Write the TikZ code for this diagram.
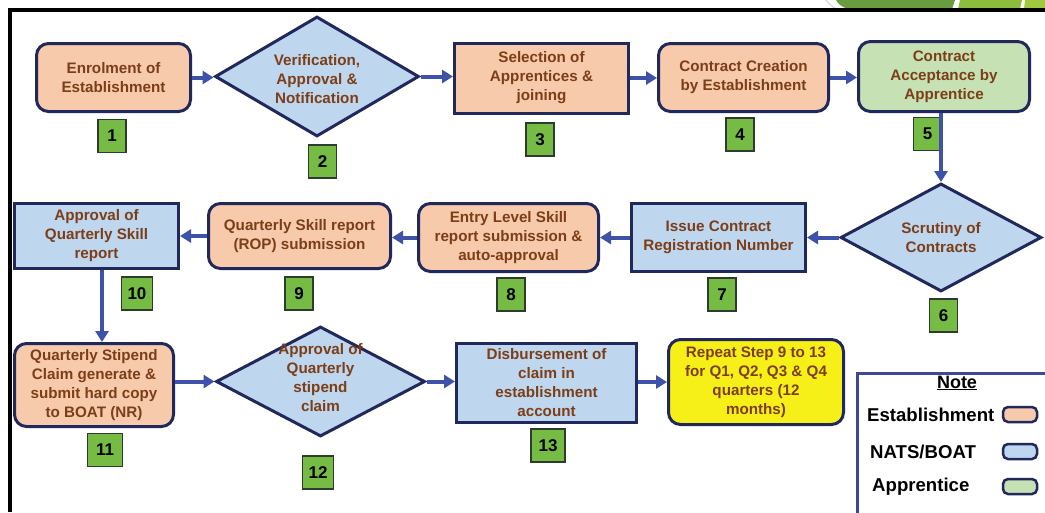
\documentclass[tikz,border=0pt]{standalone}
\usepackage{fontspec}
\setmainfont{Liberation Sans}
\usetikzlibrary{shapes.geometric,arrows.meta}
\definecolor{navy}{RGB}{32,40,92}
\definecolor{peach}{RGB}{247,202,172}
\definecolor{lblue}{RGB}{190,214,238}
\definecolor{lgreen}{RGB}{198,226,180}
\definecolor{yel}{RGB}{246,240,24}
\definecolor{txtbrown}{RGB}{124,62,24}
\definecolor{arrblue}{RGB}{62,82,170}
\definecolor{numgreen}{RGB}{118,188,68}
\definecolor{numedge}{RGB}{45,60,45}
\definecolor{notecol}{RGB}{62,72,150}
\definecolor{decdark}{RGB}{107,155,63}
\definecolor{declight}{RGB}{141,187,62}
\definecolor{declighter}{RGB}{160,200,64}
\begin{document}
\begin{tikzpicture}[x=1pt,y=-1pt,
  box/.style={draw=navy, line width=3pt, align=center, text=txtbrown,
    font=\fontsize{15.2}{19}\selectfont\bfseries, inner sep=0pt},
  rbox/.style={box, rounded corners=12pt},
  dia/.style={diamond, draw=navy, line width=3pt, fill=lblue, inner sep=0pt},
  dtext/.style={align=center, text=txtbrown, inner sep=0pt,
    font=\fontsize{15.2}{19}\selectfont\bfseries},
  num/.style={draw=numedge, line width=1.6pt, fill=numgreen, inner sep=0pt,
    font=\fontsize{17}{17}\selectfont\bfseries, minimum height=33pt, minimum width=28pt},
  arr/.style={draw=arrblue, line width=4pt, -{Triangle[length=11pt,width=13pt]}},
  legtext/.style={anchor=west, inner sep=0pt, font=\fontsize{18.6}{20}\selectfont\bfseries},
  swatch/.style={draw=navy, line width=2.5pt, rounded corners=5pt, minimum width=34pt, minimum height=15pt, inner sep=0pt},
]
\useasboundingbox (0,0) rectangle (1045,512);
\clip (0,0) rectangle (1045,512);
\fill[white] (0,0) rectangle (1045,512);

% decoration at top right
\fill[decdark] (836,0) .. controls (838,4) and (842,7) .. (848,9) -- (952,9) -- (955,0) -- cycle;
\fill[declight] (960,0) -- (958,9) -- (1020,9) -- (1022,0) -- cycle;
\fill[declighter] (1025,0) -- (1024,9) -- (1045,9) -- (1045,0) -- cycle;
\draw[gray!50, line width=0.6pt] (826,0) .. controls (829,4) .. (836,9);

% frame
\draw[black, line width=4pt] (7.5,9.5) -- (1045,9.5);
\draw[black, line width=4pt] (9.5,7.5) -- (9.5,512);

% row 1
\node[rbox, fill=peach, minimum width=154pt, minimum height=68pt] (n1) at (113.5,77.5) {Enrolment of\\Establishment};
\node[dia, minimum width=204pt, minimum height=120pt] (d2) at (317,76.5) {};
\node[dtext] (t2) at (317,79) {Verification,\\Approval \&\\Notification};
\node[box, fill=peach, minimum width=174pt, minimum height=70pt] (n3) at (541.5,78) {Selection of\\Apprentices \&\\joining};
\node[rbox, fill=peach, minimum width=170pt, minimum height=68pt] (n4) at (743.5,77.5) {Contract Creation\\by Establishment};
\node[rbox, fill=lgreen, minimum width=171pt, minimum height=70pt] (n5) at (944,76.5) {Contract\\Acceptance by\\Apprentice};

% row 2
\node[dia, minimum width=201pt, minimum height=108pt] (d6) at (941,237.5) {};
\node[dtext] (t6) at (941,237.5) {Scrutiny of\\Contracts};
\node[box, fill=lblue, minimum width=174pt, minimum height=68pt] (n7) at (718.5,237.5) {Issue Contract\\Registration Number};
\node[rbox, fill=peach, minimum width=180pt, minimum height=68pt] (n8) at (508.5,237.5) {Entry Level Skill\\report submission \&\\auto-approval};
\node[rbox, fill=peach, minimum width=182pt, minimum height=65pt] (n9) at (299.5,236) {Quarterly Skill report\\(ROP) submission};
\node[box, fill=lblue, minimum width=164pt, minimum height=65pt] (n10) at (96.5,236) {Approval of\\Quarterly Skill\\report};

% row 3
\node[rbox, fill=peach, minimum width=159pt, minimum height=83pt] (n11) at (94,385) {Quarterly Stipend\\Claim generate \&\\submit hard copy\\to BOAT (NR)};
\node[dia, minimum width=209pt, minimum height=110pt] (d12) at (320.5,381.5) {};
\node[dtext] (t12) at (320.5,378) {Approval of\\Quarterly\\stipend\\claim};
\node[box, fill=lblue, minimum width=180pt, minimum height=79pt] (n13) at (546.5,383) {Disbursement of\\claim in\\establishment\\account};
\node[rbox, fill=yel, minimum width=175pt, minimum height=85pt] (n14) at (756,382) {Repeat Step 9 to 13\\for Q1, Q2, Q3 \& Q4\\quarters (12\\months)};

% step numbers
\node[num] (l1) at (112,136) {1};
\node[num] (l2) at (322.5,161.5) {2};
\node[num] (l3) at (540,139.5) {3};
\node[num] (l4) at (740,134.5) {4};
\node[num] (l5) at (927.5,134) {5};
\node[num] (l6) at (943.5,315.5) {6};
\node[num] (l7) at (722,294.5) {7};
\node[num] (l8) at (511,294.5) {8};
\node[num] (l9) at (299,293.5) {9};
\node[num, minimum width=31pt] (l10) at (137,293.5) {10};
\node[num, minimum width=35pt] (l11) at (105,450) {11};
\node[num, minimum width=31pt] (l12) at (318,472.5) {12};
\node[num, minimum width=34pt] (l13) at (548,445.5) {13};

% connectors
\draw[arr] (n1.east) -- (n1.east -| d2.west);
\draw[arr] (d2.east) -- (d2.east -| n3.west);
\draw[arr] (n3.east) -- (n3.east -| n4.west);
\draw[arr] (n4.east) -- (n4.east -| n5.west);
\draw[arr] (d6.north |- n5.south) -- (d6.north);
\draw[arr] (d6.west) -- (d6.west -| n7.east);
\draw[arr] (n7.west) -- (n7.west -| n8.east);
\draw[arr] (n8.west) -- (n8.west -| n9.east);
\draw[arr] (n9.west) -- (n9.west -| n10.east);
\coordinate (a10) at ([xshift=5.5pt]n10.south);
\draw[arr] (a10) -- (a10 |- n11.north);
\draw[arr] (n11.east |- d12.west) -- (d12.west);
\draw[arr] (d12.east) -- (d12.east -| n13.west);
\draw[arr] (n13.east |- n14.west) -- (n14.west);

% note box
\draw[notecol, line width=3pt] (857.5,373.5) rectangle (1070,540);
\node[inner sep=0pt, font=\fontsize{18}{20}\selectfont\bfseries] (notet) at (957,383) {\underline{Note}};
\node[legtext] (legE) at (867,415) {Establishment};
\node[swatch, fill=peach] (swE) at (1020,414.5) {};
\node[legtext] (legN) at (870,452) {NATS/BOAT};
\node[swatch, fill=lblue] (swN) at (1020,451.5) {};
\node[legtext] (legA) at (872,487) {Apprentice};
\node[swatch, fill=lgreen] (swA) at (1020,486.5) {};
\end{tikzpicture}
\end{document}
